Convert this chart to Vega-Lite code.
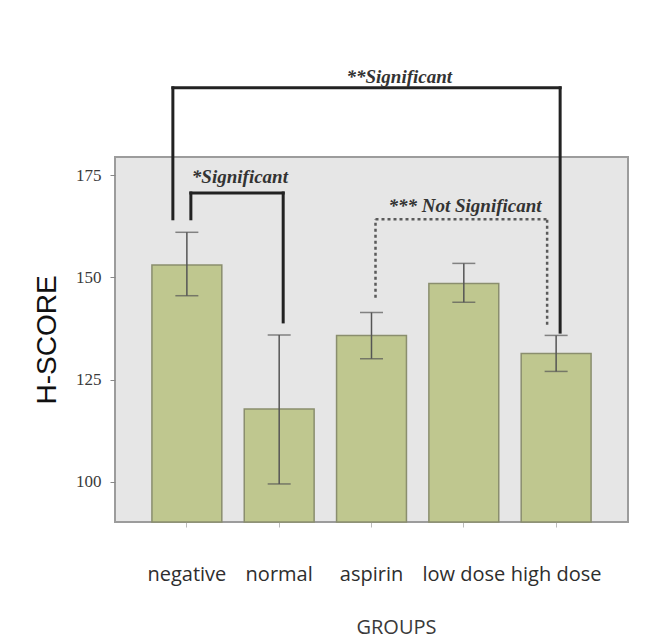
{
  "$schema": "https://vega.github.io/schema/vega-lite/v6.json",
  "width": 513,
  "height": 365,
  "autosize": {"type": "none"},
  "padding": {"left": 115, "top": 157, "right": 44, "bottom": 119},
  "background": "white",
  "config": {
    "view": {"fill": "#e6e6e6", "stroke": "#9c9c9c", "strokeWidth": 2}
  },
  "datasets": {
    "bars": [
      {"group": "negative", "mean": 153.0, "lo": 145.5, "hi": 161.0},
      {"group": "normal", "mean": 117.8, "lo": 99.5, "hi": 135.9},
      {"group": "aspirin", "mean": 135.8, "lo": 130.1, "hi": 141.4},
      {"group": "low dose", "mean": 148.5, "lo": 143.9, "hi": 153.4},
      {"group": "high dose", "mean": 131.4, "lo": 127.0, "hi": 135.8}
    ],
    "legs": [
      {"leg": "big-left", "group": "negative", "from": 164.3, "to": 196.3},
      {"leg": "big-right", "group": "high dose", "from": 136.6, "to": 196.3},
      {"leg": "small-left", "group": "negative", "from": 164.3, "to": 170.6},
      {"leg": "small-right", "group": "normal", "from": 139.1, "to": 170.6},
      {"leg": "ns-left", "group": "aspirin", "from": 145.0, "to": 164.2},
      {"leg": "ns-right", "group": "high dose", "from": 138.4, "to": 164.2}
    ],
    "spans": [
      {"span": "big", "group": "negative", "group2": "high dose", "at": 196.3},
      {"span": "small", "group": "negative", "group2": "normal", "at": 170.6},
      {"span": "ns", "group": "aspirin", "group2": "high dose", "at": 164.2}
    ],
    "notes": [
      {"note": "big", "label": "**Significant", "group": "aspirin", "at": 199.0},
      {"note": "small", "label": "*Significant", "group": "negative", "at": 174.6},
      {"note": "ns", "label": "*** Not Significant", "group": "aspirin", "at": 167.5}
    ]
  },
  "layer": [
    {
      "data": {"name": "bars"},
      "mark": {"type": "bar", "fill": "#bfc78f", "stroke": "#8a8e6e", "strokeWidth": 1.5},
      "encoding": {
        "x": {
          "field": "group",
          "type": "nominal",
          "scale": {
            "domain": ["negative", "normal", "aspirin", "low dose", "high dose"],
            "paddingInner": 0.243,
            "paddingOuter": 0.4
          },
          "axis": {
            "title": "GROUPS",
            "labelAngle": 0,
            "labelFont": "Open Sans",
            "labelFontSize": 20,
            "labelFontWeight": "normal",
            "labelColor": "#2e2e2e",
            "labelPadding": 37,
            "tickSize": 5,
            "tickColor": "#bbbbbb",
            "domain": false,
            "titleFont": "Open Sans",
            "titleFontSize": 20,
            "titleFontWeight": "normal",
            "titleColor": "#3a3a3a",
            "titlePadding": 33,
            "titleX": 281
          }
        },
        "y": {
          "field": "mean",
          "type": "quantitative",
          "scale": {"domain": [90.2, 179.4], "nice": false, "zero": false},
          "axis": {
            "title": "H-SCORE",
            "values": [100, 125, 150, 175],
            "grid": false,
            "domain": false,
            "tickSize": 5,
            "tickColor": "#888888",
            "labelFont": "Liberation Serif",
            "labelFontSize": 17,
            "labelColor": "#3a3a3a",
            "labelPadding": 9,
            "titleFont": "Liberation Sans",
            "titleFontSize": 28,
            "titleFontWeight": "normal",
            "titleColor": "#111111",
            "titlePadding": 14
          }
        },
        "y2": {"datum": 90.2}
      }
    },
    {
      "data": {"name": "bars"},
      "mark": {"type": "rule", "color": "#555555", "strokeWidth": 1.5},
      "encoding": {
        "x": {"field": "group", "type": "nominal"},
        "y": {"field": "lo", "type": "quantitative"},
        "y2": {"field": "hi"}
      }
    },
    {
      "data": {"name": "bars"},
      "mark": {"type": "tick", "color": "#555555", "size": 23, "thickness": 1.5},
      "encoding": {
        "x": {"field": "group", "type": "nominal"},
        "y": {"field": "lo", "type": "quantitative"}
      }
    },
    {
      "data": {"name": "bars"},
      "mark": {"type": "tick", "color": "#555555", "size": 23, "thickness": 1.5},
      "encoding": {
        "x": {"field": "group", "type": "nominal"},
        "y": {"field": "hi", "type": "quantitative"}
      }
    },
    {
      "data": {"name": "legs"},
      "transform": [{"filter": "datum.leg === 'big-left'"}],
      "mark": {"type": "rule", "color": "#222222", "strokeWidth": 3, "strokeCap": "square", "xOffset": -14},
      "encoding": {
        "x": {"field": "group", "type": "nominal"},
        "y": {"field": "from", "type": "quantitative"},
        "y2": {"field": "to"}
      }
    },
    {
      "data": {"name": "legs"},
      "transform": [{"filter": "datum.leg === 'big-right' || datum.leg === 'small-left' || datum.leg === 'small-right'"}],
      "mark": {"type": "rule", "color": "#222222", "strokeWidth": 3, "strokeCap": "square", "xOffset": 4},
      "encoding": {
        "x": {"field": "group", "type": "nominal"},
        "y": {"field": "from", "type": "quantitative"},
        "y2": {"field": "to"}
      }
    },
    {
      "data": {"name": "spans"},
      "transform": [{"filter": "datum.span === 'big'"}],
      "mark": {"type": "rule", "color": "#222222", "strokeWidth": 3, "strokeCap": "square", "xOffset": -14, "x2Offset": 4},
      "encoding": {
        "x": {"field": "group", "type": "nominal"},
        "x2": {"field": "group2"},
        "y": {"field": "at", "type": "quantitative"}
      }
    },
    {
      "data": {"name": "spans"},
      "transform": [{"filter": "datum.span === 'small'"}],
      "mark": {"type": "rule", "color": "#222222", "strokeWidth": 3, "strokeCap": "square", "xOffset": 4, "x2Offset": 4},
      "encoding": {
        "x": {"field": "group", "type": "nominal"},
        "x2": {"field": "group2"},
        "y": {"field": "at", "type": "quantitative"}
      }
    },
    {
      "data": {"name": "legs"},
      "transform": [{"filter": "datum.leg === 'ns-left'"}],
      "mark": {"type": "rule", "color": "#5a5a5a", "strokeWidth": 2.5, "strokeDash": [3, 3], "xOffset": 4},
      "encoding": {
        "x": {"field": "group", "type": "nominal"},
        "y": {"field": "from", "type": "quantitative"},
        "y2": {"field": "to"}
      }
    },
    {
      "data": {"name": "legs"},
      "transform": [{"filter": "datum.leg === 'ns-right'"}],
      "mark": {"type": "rule", "color": "#5a5a5a", "strokeWidth": 2.5, "strokeDash": [3, 3], "xOffset": -9},
      "encoding": {
        "x": {"field": "group", "type": "nominal"},
        "y": {"field": "from", "type": "quantitative"},
        "y2": {"field": "to"}
      }
    },
    {
      "data": {"name": "spans"},
      "transform": [{"filter": "datum.span === 'ns'"}],
      "mark": {"type": "rule", "color": "#5a5a5a", "strokeWidth": 2.5, "strokeDash": [3, 3], "xOffset": 4, "x2Offset": -9},
      "encoding": {
        "x": {"field": "group", "type": "nominal"},
        "x2": {"field": "group2"},
        "y": {"field": "at", "type": "quantitative"}
      }
    },
    {
      "data": {"name": "notes"},
      "transform": [{"filter": "datum.note === 'big'"}],
      "mark": {"type": "text", "font": "Liberation Serif", "fontStyle": "italic", "fontWeight": "bold", "fontSize": 19, "color": "#333333", "align": "left", "baseline": "middle", "dx": -25},
      "encoding": {
        "x": {"field": "group", "type": "nominal"},
        "y": {"field": "at", "type": "quantitative"},
        "text": {"field": "label"}
      }
    },
    {
      "data": {"name": "notes"},
      "transform": [{"filter": "datum.note === 'small'"}],
      "mark": {"type": "text", "font": "Liberation Serif", "fontStyle": "italic", "fontWeight": "bold", "fontSize": 19, "color": "#333333", "align": "left", "baseline": "middle", "dx": 5},
      "encoding": {
        "x": {"field": "group", "type": "nominal"},
        "y": {"field": "at", "type": "quantitative"},
        "text": {"field": "label"}
      }
    },
    {
      "data": {"name": "notes"},
      "transform": [{"filter": "datum.note === 'ns'"}],
      "mark": {"type": "text", "font": "Liberation Serif", "fontStyle": "italic", "fontWeight": "bold", "fontSize": 19, "color": "#333333", "align": "left", "baseline": "middle", "dx": 17},
      "encoding": {
        "x": {"field": "group", "type": "nominal"},
        "y": {"field": "at", "type": "quantitative"},
        "text": {"field": "label"}
      }
    }
  ]
}
